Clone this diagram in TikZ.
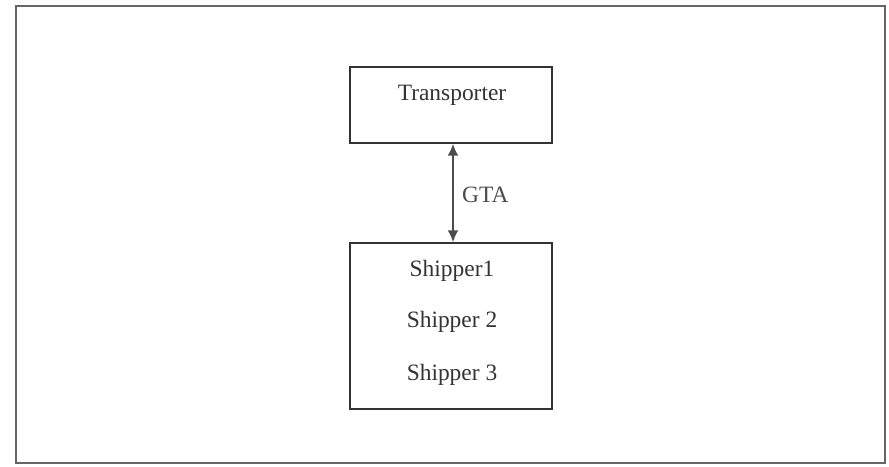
\documentclass[tikz,border=0pt]{standalone}
\usepackage{fontspec}
\setmainfont{Liberation Serif}
\usetikzlibrary{arrows.meta, positioning}

\begin{document}
\begin{tikzpicture}[x=0.03cm, y=-0.03cm,
    font=\fontsize{20}{24}\selectfont, text=black!80,
    party/.style={draw=black!80, line width=1.4pt, minimum width=6.05cm, inner sep=0pt}]
    \useasboundingbox (0, 0) rectangle (889, 466);
    \draw[line width=1.6pt, black!60] (16, 6) rectangle (885, 463);

    % parties
    \node[party, minimum height=2.28cm] (trans) at (451, 105) {};
    \node at (452, 95) (translabel) {Transporter};
    \node[party, minimum height=4.98cm] (ship) at (451, 326) {};
    \node (s1) at (452, 271) {Shipper1};
    \node (s2) at (452, 322) {Shipper 2};
    \node (s3) at (452, 375) {Shipper 3};

    % agreement
    \draw[{Latex[length=10pt, width=9pt]}-{Latex[length=10pt, width=9pt]}, line width=1.1pt, black!70]
        (trans.south -| 453, 0) -- node[right=4pt, yshift=-2pt] {GTA} (ship.north -| 453, 0);
\end{tikzpicture}
\end{document}
